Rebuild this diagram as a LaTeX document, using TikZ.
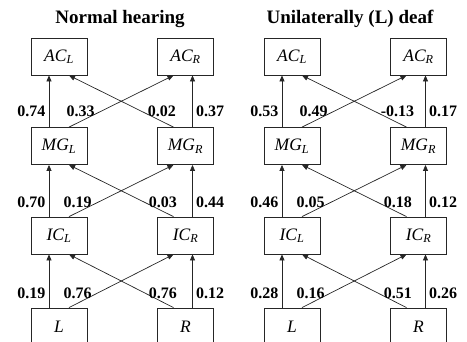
\documentclass[tikz,border=0pt]{standalone}
\usepackage{fontspec}
\setmainfont{Liberation Serif}
\usetikzlibrary{arrows.meta, positioning}

\begin{document}
\begin{tikzpicture}[x=1pt, y=-1pt,
  every node/.style={font=\fontsize{16}{18}\selectfont\bfseries},
  box/.style={draw=black!85, line width=0.8pt, minimum width=56pt, minimum height=37pt, inner sep=0pt, font=\fontsize{17.5}{19}\selectfont},
  arrow/.style={-{Triangle[length=6pt, width=5pt]}, line width=0.7pt, draw=black!85},
  title/.style={font=\fontsize{19}{21}\selectfont\bfseries}
]
  \useasboundingbox (0,0) rectangle (467,341);

  % normal hearing
  \node[title] (tnorm) at (120,19) {Normal hearing};
  \node[box] (acl) at (59,56.5) {$\mathit{AC}_{\mathit{L}}$};
  \node[box] (acr) at (185.5,56.5) {$\mathit{AC}_{\mathit{R}}$};
  \node[box] (mgl) at (59,146) {$\mathit{MG}_{\mathit{L}}$};
  \node[box] (mgr) at (185.5,146) {$\mathit{MG}_{\mathit{R}}$};
  \node[box] (icl) at (59,235.5) {$\mathit{IC}_{\mathit{L}}$};
  \node[box] (icr) at (185.5,235.5) {$\mathit{IC}_{\mathit{R}}$};
  \node[box] (inl) at (59,326.5) {$\mathit{L}$};
  \node[box] (inr) at (185.5,326.5) {$\mathit{R}$};

  \draw[arrow] ([xshift=-10pt]inl.north) -- ([xshift=-10pt]icl.south) node[pos=0.27,left] {0.19};
  \draw[arrow] ([xshift=10pt]inl.north) -- ([xshift=-12pt]icr.south) node[pos=0.27,left,xshift=-2pt] {0.76};
  \draw[arrow] ([xshift=-12pt]inr.north) -- ([xshift=10pt]icl.south) node[pos=0.27,right] {0.76};
  \draw[arrow] ([xshift=7pt]inr.north) -- ([xshift=7pt]icr.south) node[pos=0.27,right] {0.12};
  \draw[arrow] ([xshift=-10pt]icl.north) -- ([xshift=-10pt]mgl.south) node[pos=0.27,left] {0.70};
  \draw[arrow] ([xshift=10pt]icl.north) -- ([xshift=-12pt]mgr.south) node[pos=0.27,left,xshift=-2pt] {0.19};
  \draw[arrow] ([xshift=-12pt]icr.north) -- ([xshift=10pt]mgl.south) node[pos=0.27,right] {0.03};
  \draw[arrow] ([xshift=7pt]icr.north) -- ([xshift=7pt]mgr.south) node[pos=0.27,right] {0.44};
  \draw[arrow] ([xshift=-10pt]mgl.north) -- ([xshift=-10pt]acl.south) node[pos=0.3,left] {0.74};
  \draw[arrow] ([xshift=10pt]mgl.north) -- ([xshift=-12pt]acr.south) node[pos=0.3,left,xshift=-2pt] {0.33};
  \draw[arrow] ([xshift=-12pt]mgr.north) -- ([xshift=10pt]acl.south) node[pos=0.3,right,xshift=2pt] {0.02};
  \draw[arrow] ([xshift=7pt]mgr.north) -- ([xshift=7pt]acr.south) node[pos=0.3,right] {0.37};

  % unilaterally deaf
  \node[title] (tuni) at (350,19) {Unilaterally (L) deaf};
  \node[box] (uacl) at (292,56.5) {$\mathit{AC}_{\mathit{L}}$};
  \node[box] (uacr) at (418.5,56.5) {$\mathit{AC}_{\mathit{R}}$};
  \node[box] (umgl) at (292,146) {$\mathit{MG}_{\mathit{L}}$};
  \node[box] (umgr) at (418.5,146) {$\mathit{MG}_{\mathit{R}}$};
  \node[box] (uicl) at (292,235.5) {$\mathit{IC}_{\mathit{L}}$};
  \node[box] (uicr) at (418.5,235.5) {$\mathit{IC}_{\mathit{R}}$};
  \node[box] (uinl) at (292,326.5) {$\mathit{L}$};
  \node[box] (uinr) at (418.5,326.5) {$\mathit{R}$};

  \draw[arrow] ([xshift=-10pt]uinl.north) -- ([xshift=-10pt]uicl.south) node[pos=0.27,left] {0.28};
  \draw[arrow] ([xshift=10pt]uinl.north) -- ([xshift=-12pt]uicr.south) node[pos=0.27,left,xshift=-2pt] {0.16};
  \draw[arrow] ([xshift=-12pt]uinr.north) -- ([xshift=10pt]uicl.south) node[pos=0.27,right,xshift=2pt] {0.51};
  \draw[arrow] ([xshift=7pt]uinr.north) -- ([xshift=7pt]uicr.south) node[pos=0.27,right] {0.26};
  \draw[arrow] ([xshift=-10pt]uicl.north) -- ([xshift=-10pt]umgl.south) node[pos=0.27,left] {0.46};
  \draw[arrow] ([xshift=10pt]uicl.north) -- ([xshift=-12pt]umgr.south) node[pos=0.27,left,xshift=-2pt] {0.05};
  \draw[arrow] ([xshift=-12pt]uicr.north) -- ([xshift=10pt]umgl.south) node[pos=0.27,right,xshift=2pt] {0.18};
  \draw[arrow] ([xshift=7pt]uicr.north) -- ([xshift=7pt]umgr.south) node[pos=0.27,right] {0.12};
  \draw[arrow] ([xshift=-10pt]umgl.north) -- ([xshift=-10pt]uacl.south) node[pos=0.3,left] {0.53};
  \draw[arrow] ([xshift=10pt]umgl.north) -- ([xshift=-12pt]uacr.south) node[pos=0.3,left,xshift=-2pt] {0.49};
  \draw[arrow] ([xshift=-12pt]umgr.north) -- ([xshift=10pt]uacl.south) node[pos=0.3,right,xshift=2pt] {-0.13};
  \draw[arrow] ([xshift=7pt]umgr.north) -- ([xshift=7pt]uacr.south) node[pos=0.3,right] {0.17};
\end{tikzpicture}
\end{document}
